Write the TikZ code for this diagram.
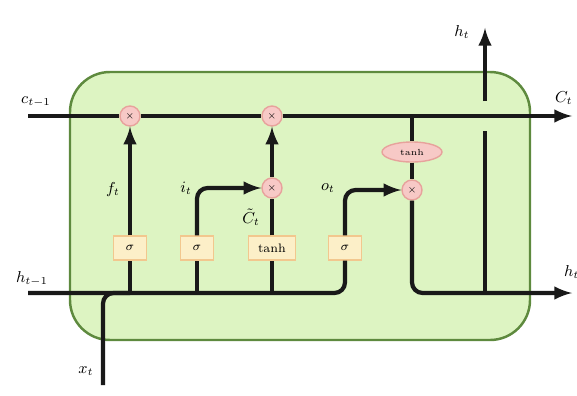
\documentclass[tikz,border=0pt]{standalone}
\usetikzlibrary{shapes.geometric}

\definecolor{cellgreen}{HTML}{DDF4C2}
\definecolor{celledge}{HTML}{5E8A3E}
\definecolor{mulpink}{HTML}{F7C9C6}
\definecolor{muledge}{HTML}{E7A29C}
\definecolor{gatefill}{HTML}{FCEFC8}
\definecolor{gateedge}{HTML}{F2C78E}

\begin{document}
\begin{tikzpicture}[
    x=0.02cm, y=-0.02cm,
    cell/.style={draw=celledge, line width=1.4pt, fill=cellgreen, rounded corners=0.8cm},
    gate/.style={rectangle, draw=gateedge, fill=gatefill, thick, minimum width=0.66cm, minimum height=0.48cm, inner sep=1pt, font=\scriptsize},
    mul/.style={circle, draw=muledge, fill=mulpink, thick, minimum size=0.4cm, inner sep=0pt, font=\tiny},
    act/.style={ellipse, draw=muledge, fill=mulpink, thick, minimum width=1.2cm, minimum height=0.4cm, inner sep=0pt, font=\tiny},
    wire/.style={line width=2.4pt, black!90},
    arrow/.style={-latex, line width=2.4pt, black!90},
    lbl/.style={font=\small, inner sep=1pt}
]
    \useasboundingbox (0,0) rectangle (577,395);

    % Cell
    \draw[cell] (70,72) rectangle (530,340);

    % Ends of the state lines
    \coordinate (cin)  at (28,116);
    \coordinate (cout) at (572,116);
    \coordinate (hin)  at (28,293);
    \coordinate (hout) at (572,293);
    \coordinate (xin)  at (103,385);
    \coordinate (hup)  at (485,28);
    \coordinate (gapb) at (485,131);
    \coordinate (gapt) at (485,101);

    % Pointwise operations
    \node[mul] (fmul) at (130,116) {$\times$};
    \node[mul] (cmul) at (272,116) {$\times$};
    \node[mul] (imul) at (272,188) {$\times$};
    \node[act] (otanh) at (412,152) {tanh};
    \node[mul] (omul) at (412,190) {$\times$};

    % Gates
    \node[gate] (sigf) at (130,248) {$\sigma$};
    \node[gate] (sigi) at (197,248) {$\sigma$};
    \node[gate, minimum width=0.95cm] (tanhc) at (272,248) {tanh};
    \node[gate] (sigo) at (345,248) {$\sigma$};

    % Cell state
    \draw[arrow] (cin) -- (fmul) -- (cmul) -- (cout);

    % Hidden state and input
    \draw[wire, rounded corners=6pt] (hin) -| (sigo.south);
    \draw[wire, rounded corners=6pt] (xin) |- (sigf.south |- hin);
    \draw[wire] (sigf.south |- hin) -- (sigf.south);
    \draw[wire] (sigi.south |- hin) -- (sigi.south);
    \draw[wire] (tanhc.south |- hin) -- (tanhc.south);

    % Gate outputs
    \draw[arrow] (sigf.north) -- (fmul.south);
    \draw[arrow, rounded corners=6pt] (sigi.north) |- (imul.west);
    \draw[wire] (tanhc.north) -- (imul.south);
    \draw[arrow] (imul.north) -- (cmul.south);
    \draw[arrow, rounded corners=6pt] (sigo.north) |- (omul.west);

    % Output
    \draw[wire] (otanh.north |- cin) -- (otanh.north);
    \draw[wire] (otanh.south) -- (omul.north);
    \draw[arrow, rounded corners=6pt] (omul.south) |- (hout);
    \draw[wire] (gapb |- hout) -- (gapb);
    \draw[arrow] (gapt) -- (hup);

    % Labels
    \node[lbl] (lcin) at (36,102) {$c_{t-1}$};
    \node[lbl, anchor=west] (lcout) at (553,98) {$C_t$};
    \node[lbl] (lhin) at (32,279) {$h_{t-1}$};
    \node[lbl, anchor=west] (lhout) at (562,272) {$h_t$};
    \node[lbl] (lhup) at (462,32) {$h_t$};
    \node[lbl] (lxin) at (86,371) {$x_t$};
    \node[lbl] (lf) at (113,190) {$f_t$};
    \node[lbl] (li) at (186,188) {$i_t$};
    \node[lbl, anchor=east] (lc) at (262,217) {$\tilde{C}_t$};
    \node[lbl] (lo) at (328,188) {$o_t$};

\end{tikzpicture}
\end{document}
